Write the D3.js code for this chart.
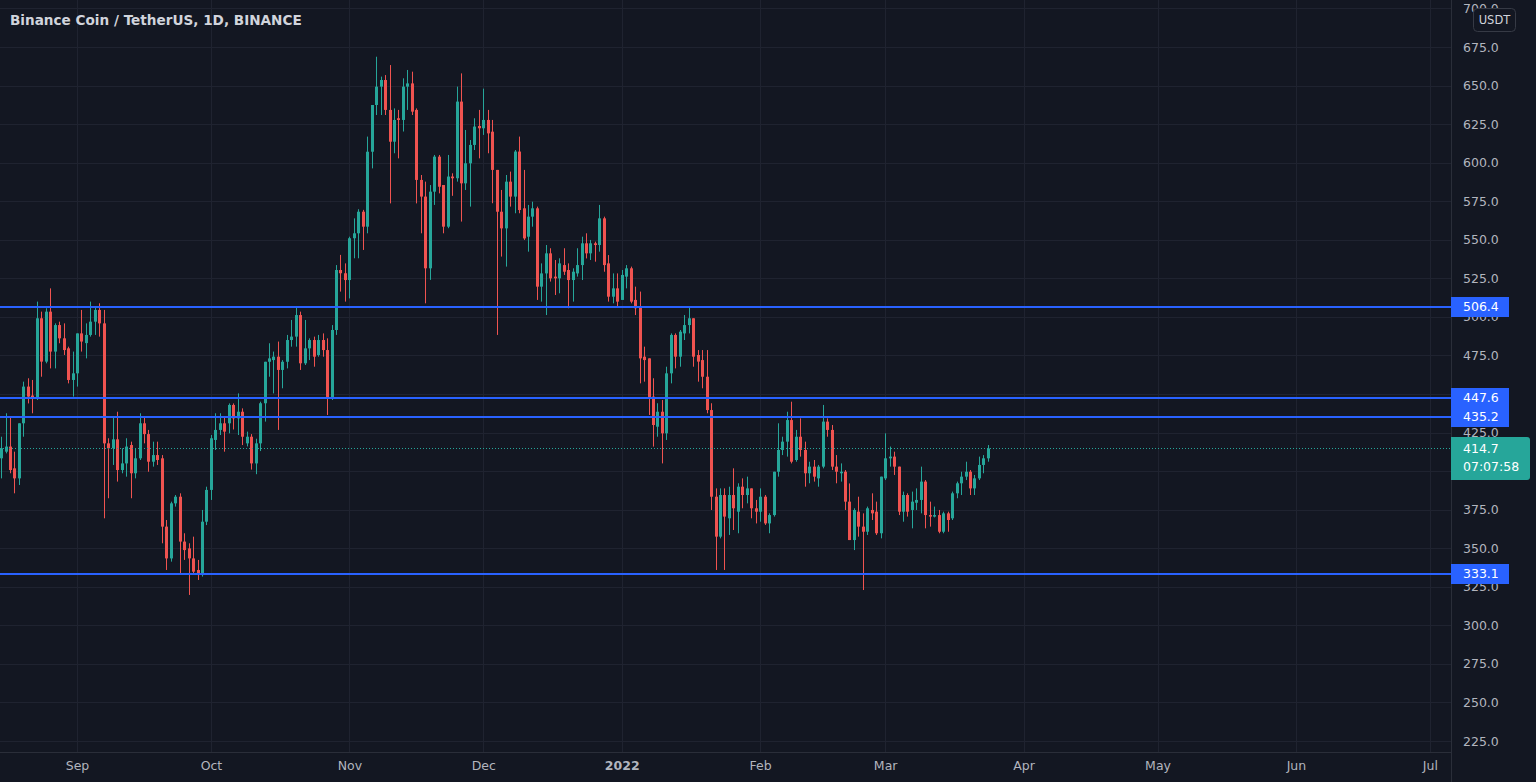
<!DOCTYPE html>
<html><head><meta charset="utf-8">
<script src="https://cdn.jsdelivr.net/npm/d3@7"></script>
<style>
html,body{margin:0;padding:0;background:#131722;overflow:hidden;}
svg{display:block;}
</style></head>
<body>
<svg id="c" width="1536" height="782"></svg>
<script>
// ---------- DATA ----------
const startDate = "2021-08-15"; // first daily candle, one candle per day
const open = [408.3,412.6,415.9,401.8,395.3,431.0,454.8,449.0,447.2,499.1,
471.0,503.4,477.5,494.7,486.1,479.6,459.1,463.4,489.3,483.0,
488.3,496.9,504.5,495.8,418.0,414.8,420.6,400.7,405.0,416.9,
398.6,408.3,431.0,424.0,406.1,410.4,408.3,364.0,343.4,379.1,
383.4,354.3,349.9,343.4,335.9,332.6,367.2,387.8,420.2,426.7,
431.0,431.0,442.9,434.2,438.5,418.0,422.3,405.0,418.0,444.0,
470.9,472.0,474.2,465.6,470.9,485.0,487.2,501.2,469.9,479.6,
485.0,475.3,485.0,478.5,447.2,491.5,530.4,528.3,523.9,551.0,
554.2,568.2,558.5,607.1,637.4,649.3,653.6,634.2,613.6,628.8,
627.7,649.3,651.4,634.2,588.8,578.0,531.5,581.2,603.9,585.5,
558.5,591.0,589.9,639.6,586.6,599.6,611.5,623.8,622.3,627.7,
620.1,595.3,568.2,557.4,587.7,578.0,607.2,570.4,552.0,565.0,
570.4,519.6,528.2,541.2,526.1,525.0,533.6,530.4,523.9,528.2,
533.6,547.7,541.2,547.7,546.6,563.9,534.7,513.1,518.5,511.0,
526.1,531.5,511.0,506.6,474.2,473.1,448.3,428.8,438.5,424.5,
463.4,488.3,474.2,489.3,494.7,499.1,475.3,472.0,461.2,439.6,
383.4,357.5,384.5,369.4,384.5,373.7,389.9,384.5,388.8,375.9,
373.7,383.4,366.1,371.5,399.6,413.7,419.1,433.1,407.2,422.3,
413.7,398.6,402.9,395.3,402.9,432.1,426.7,402.9,398.6,399.6,
380.2,355.3,373.7,364.0,360.7,374.8,373.7,359.7,395.3,408.3,
409.4,402.9,373.7,384.5,374.8,379.5,381.3,393.2,371.5,370.5,
371.5,360.7,372.6,369.4,385.6,392.1,396.4,399.6,388.8,395.3,
404.0,408.3];
const high = [422.3,437.5,435.3,412.6,431.0,458.0,460.2,459.1,509.9,503.4,
505.6,518.5,495.8,496.9,495.8,480.7,477.5,489.3,504.5,495.8,
509.9,506.6,508.8,504.5,421.3,435.3,438.5,414.8,421.3,419.1,
414.8,437.5,435.3,426.7,419.1,419.1,410.4,368.3,380.2,384.5,
385.6,359.7,353.2,357.5,342.4,374.8,389.9,423.4,437.5,437.5,
435.3,443.9,443.9,450.4,440.7,425.6,424.0,421.0,445.0,470.9,
482.9,477.5,484.0,472.0,488.3,498.0,506.6,503.4,498.0,486.1,
487.2,488.3,489.3,486.1,494.7,533.6,540.2,534.7,552.0,563.9,
569.8,569.4,616.9,637.4,668.7,655.8,656.8,663.3,635.2,634.2,
654.7,660.1,659.0,635.2,592.0,587.7,585.5,605.0,605.0,585.5,
605.0,593.1,649.3,657.9,621.2,614.7,628.8,634.2,648.0,634.2,
627.7,595.3,582.3,592.0,594.2,608.2,616.9,595.3,572.6,574.7,
571.5,534.7,546.6,544.5,536.9,538.0,544.5,534.7,531.5,544.5,
552.0,554.2,549.9,548.8,572.6,565.0,540.1,528.2,528.2,530.4,
533.6,532.6,519.6,516.4,480.7,473.1,460.2,444.0,446.1,467.7,
489.3,489.3,491.5,501.2,506.6,499.1,478.5,478.5,478.5,444.0,
388.8,388.8,388.8,389.9,401.8,392.1,395.3,396.4,388.8,381.3,
388.8,384.5,372.6,399.6,431.0,422.3,438.5,445.0,426.7,434.2,
419.1,406.1,407.2,404.0,442.9,434.2,429.9,410.4,405.0,400.7,
392.0,375.9,383.4,372.6,377.0,385.6,380.2,396.4,424.5,415.9,
412.6,402.9,386.7,385.6,386.7,388.8,402.9,394.2,380.2,377.0,
374.8,373.7,373.7,386.7,393.2,399.6,406.1,400.7,397.5,409.4,
410.4,416.9];
const low = [395.3,411.5,398.6,385.6,391.0,422.3,443.9,437.5,446.1,461.2,
469.9,466.6,466.6,482.9,475.3,456.9,448.3,454.8,477.5,473.1,
487.2,488.3,487.2,369.4,382.4,404.0,393.2,398.6,396.4,382.4,
395.3,407.2,418.0,399.6,402.9,404.0,353.2,335.9,341.3,377.0,
333.7,342.4,319.7,333.7,329.4,331.6,365.0,381.3,413.7,423.4,
412.6,424.5,427.0,423.4,416.9,416.0,401.0,398.0,413.0,432.1,
461.2,450.4,426.7,453.7,466.6,480.7,480.7,465.6,468.8,472.0,
467.7,474.2,474.2,436.4,446.1,488.3,516.4,509.9,512.0,538.0,
538.0,543.4,554.2,596.3,630.9,630.9,630.9,573.6,606.1,602.8,
620.2,634.2,630.9,573.6,554.2,508.8,524.0,572.6,580.1,554.2,
557.5,578.5,587.7,561.8,582.3,571.5,608.2,602.8,618.0,606.1,
573.7,488.3,539.1,532.6,571.5,567.2,567.2,549.9,542.3,558.5,
511.0,509.9,501.2,522.9,514.2,515.3,527.2,505.6,509.9,526.1,
523.9,537.9,536.9,535.8,542.3,529.3,509.9,508.8,506.6,511.0,
518.5,508.8,501.2,456.9,458.0,436.4,415.9,422.3,405.0,420.2,
456.9,466.6,467.7,485.0,489.3,467.7,458.0,453.7,437.5,374.8,
335.9,356.4,335.9,358.6,361.8,359.7,375.9,379.1,369.4,366.1,
367.2,365.1,359.7,370.5,396.4,410.4,409.4,405.0,406.1,409.4,
389.9,392.1,393.2,389.9,401.8,422.3,400.7,392.1,393.2,374.8,
355.3,348.8,357.5,322.9,358.6,368.3,358.6,356.4,394.2,402.9,
397.5,371.5,367.2,370.5,362.9,374.8,372.6,362.9,364.0,370.0,
359.7,359.7,360.7,368.3,382.4,384.5,394.2,384.5,384.5,394.2,
398.6,406.1];
const close = [414.8,415.9,400.7,395.3,431.0,454.8,448.3,447.2,499.1,471.0,
503.4,477.5,494.7,486.1,478.5,459.1,463.4,489.3,484.0,488.3,
496.9,504.5,495.8,418.0,414.8,420.6,400.7,405.0,415.9,398.6,
408.3,431.0,424.0,406.1,410.4,407.2,364.0,343.4,379.1,383.4,
354.3,348.8,343.4,334.8,332.6,367.2,387.8,421.3,426.7,431.0,
425.6,442.9,434.2,438.5,422.3,422.3,405.0,418.0,444.0,470.9,
473.1,474.2,465.6,470.9,485.0,487.2,501.2,469.9,479.6,485.0,
474.2,485.0,478.5,447.2,491.5,530.4,528.3,523.9,551.0,554.2,
568.2,558.5,607.1,637.4,649.3,653.6,634.2,613.6,627.7,627.7,
649.3,651.4,633.1,588.8,578.0,531.5,581.2,603.9,584.4,558.5,
591.0,589.9,639.6,586.6,599.6,611.5,623.4,622.3,627.7,619.0,
595.3,568.2,557.4,587.7,578.0,607.2,569.3,550.9,565.0,570.4,
519.6,528.2,541.2,525.0,525.0,534.7,529.3,523.9,529.3,533.6,
547.7,541.2,547.7,546.6,563.9,533.6,513.1,518.5,509.9,527.2,
531.5,509.9,505.6,473.1,472.0,447.2,429.9,438.5,424.5,463.4,
488.3,474.2,490.4,494.7,499.1,474.2,471.0,461.2,439.6,383.4,
357.5,384.5,370.5,384.5,375.9,389.9,384.5,388.8,375.9,373.7,
383.4,366.1,371.5,399.6,413.7,419.1,433.1,406.1,422.3,413.7,
398.6,402.9,396.4,402.9,432.1,426.7,402.9,399.6,399.6,380.2,
355.3,374.8,364.0,360.7,375.9,372.6,359.7,396.4,408.3,409.4,
402.9,373.7,384.5,373.7,380.2,381.3,393.2,371.5,370.5,371.5,
360.7,372.6,368.3,385.6,392.1,396.4,399.6,388.8,395.3,404.0,
408.3,414.7];
const levelLines = [506.4, 447.6, 435.2, 333.1];
const lastPrice = 414.7;
const countdown = "07:07:58";
const priceTicks = [225,250,275,300,325,350,375,400,425,450,475,500,525,550,575,600,625,650,675,700];
const hiddenTickLabels = [400,450]; // fully covered by the price labels in the reference
const monthTickDates = ["2021-09-01","2021-10-01","2021-11-01","2021-12-01","2022-01-01","2022-02-01","2022-03-01","2022-04-01","2022-05-01","2022-06-01","2022-07-01"];
const monthTickLabels = ["Sep","Oct","Nov","Dec","2022","Feb","Mar","Apr","May","Jun","Jul"];
const title = "Binance Coin / TetherUS, 1D, BINANCE";
const currency = "USDT";

// ---------- LAYOUT ----------
const W = 1536, H = 782, plotR = 1451, plotB = 752;
const GREEN = "#26a69a", RED = "#ef5350", BLUE = "#2962ff";
const FONT = "'DejaVu Sans', 'Noto Sans', sans-serif";
const svg = d3.select("#c");
const parse = d3.utcParse("%Y-%m-%d");
const t0 = parse(startDate);
const bars = open.map((o,i)=>({date:d3.utcDay.offset(t0,i),o,h:high[i],l:low[i],c:close[i]}));

const x = d3.scaleUtc().domain([parse("2021-08-15"), parse("2022-07-01")]).range([1.1, 1429.9]);
const y = d3.scaleLinear().domain([225,700]).range([741, 8.45]);

svg.append("rect").attr("width",W).attr("height",H).attr("fill","#131722");

// grid
const grid = svg.append("g");
grid.selectAll("line.h").data(priceTicks).join("line")
  .attr("x1",0).attr("x2",plotR).attr("y1",d=>Math.round(y(d))+0.5).attr("y2",d=>Math.round(y(d))+0.5)
  .attr("stroke","#1f2330").attr("stroke-width",1);
grid.selectAll("line.v").data(monthTickDates).join("line")
  .attr("y1",0).attr("y2",plotB).attr("x1",d=>Math.round(x(parse(d)))+0.5).attr("x2",d=>Math.round(x(parse(d)))+0.5)
  .attr("stroke","#1f2330").attr("stroke-width",1);

// candles
const cg = svg.append("g");
cg.selectAll("line.w").data(bars).join("line")
  .attr("x1",d=>Math.round(x(d.date))+0.5).attr("x2",d=>Math.round(x(d.date))+0.5)
  .attr("y1",d=>y(d.h)).attr("y2",d=>y(d.l))
  .attr("stroke",d=>d.c>=d.o?GREEN:RED).attr("stroke-width",1);
cg.selectAll("rect.b").data(bars).join("rect")
  .attr("x",d=>Math.round(x(d.date))-1).attr("width",3)
  .attr("y",d=>y(Math.max(d.o,d.c)))
  .attr("height",d=>Math.max(1, Math.abs(y(d.o)-y(d.c))))
  .attr("fill",d=>d.c>=d.o?GREEN:RED);

// last price dotted line
svg.append("line").attr("x1",0).attr("x2",plotR).attr("y1",Math.round(y(lastPrice))+0.5).attr("y2",Math.round(y(lastPrice))+0.5)
  .attr("stroke",GREEN).attr("stroke-width",1).attr("stroke-dasharray","1,2");

// level lines
svg.selectAll("line.lv").data(levelLines).join("line")
  .attr("x1",0).attr("x2",plotR).attr("y1",d=>Math.round(y(d))).attr("y2",d=>Math.round(y(d)))
  .attr("stroke",BLUE).attr("stroke-width",2);

// axes separators
svg.append("line").attr("x1",plotR+0.5).attr("x2",plotR+0.5).attr("y1",0).attr("y2",H).attr("stroke","#2a2e39");
svg.append("line").attr("x1",0).attr("x2",plotR).attr("y1",plotB+0.5).attr("y2",plotB+0.5).attr("stroke","#2a2e39");

// price axis
const yAxis = d3.axisRight(y).tickValues(priceTicks)
  .tickFormat(d=>hiddenTickLabels.includes(d)?"":d3.format(".1f")(d)).tickSize(0).tickPadding(12);
const ya = svg.append("g").attr("transform",`translate(${plotR},0)`).call(yAxis);
ya.select(".domain").remove();
ya.selectAll("text").attr("fill","#b2b5be").style("font-family",FONT).style("font-size","12.5px");

// time axis
const xAxis = d3.axisBottom(x).tickValues(monthTickDates.map(parse)).tickFormat((d,i)=>monthTickLabels[i]).tickSize(0).tickPadding(9);
const xa = svg.append("g").attr("transform",`translate(0,${plotB})`).call(xAxis);
xa.select(".domain").remove();
xa.selectAll("text").attr("fill","#b2b5be").style("font-family",FONT).style("font-size","12.5px")
  .style("font-weight",(d,i)=>monthTickLabels[i]==="2022"?"700":"400");

// level labels
const lg = svg.append("g");
levelLines.forEach(v=>{
  const yy = Math.round(y(v));
  lg.append("rect").attr("x",plotR).attr("y",yy-10).attr("width",58).attr("height",20).attr("fill",BLUE);
  lg.append("text").attr("x",plotR+12).attr("y",yy).attr("dy","0.35em").attr("fill","#ffffff")
    .style("font-family",FONT).style("font-size","12.5px").text(v.toFixed(1));
});

// last price label
const ly = Math.round(y(lastPrice));
svg.append("path").attr("fill",GREEN)
  .attr("d",`M${plotR},${ly-11} H${plotR+76} q3,0 3,3 V${ly+29} q0,3 -3,3 H${plotR} Z`);
svg.append("text").attr("x",plotR+12).attr("y",ly+1).attr("dy","0.35em").attr("fill","#ffffff")
  .style("font-family",FONT).style("font-size","12.5px").text(lastPrice.toFixed(1));
svg.append("text").attr("x",plotR+12).attr("y",ly+19).attr("dy","0.35em").attr("fill","#ffffff")
  .style("font-family",FONT).style("font-size","12.5px").text(countdown);

// currency box
svg.append("rect").attr("x",1473.5).attr("y",8.5).attr("width",42).attr("height",23).attr("rx",4)
  .attr("fill","#131722").attr("stroke","#363a45");
svg.append("text").attr("x",1494.5).attr("y",20).attr("dy","0.35em").attr("text-anchor","middle").attr("fill","#d1d4dc")
  .style("font-family",FONT).style("font-size","11.5px").text(currency);

// title
svg.append("text").attr("x",10).attr("y",20).attr("dy","0.35em").attr("fill","#d1d4dc")
  .style("font-family",FONT).style("font-size","13.6px").style("font-weight","700").text(title);
</script>
</body></html>
